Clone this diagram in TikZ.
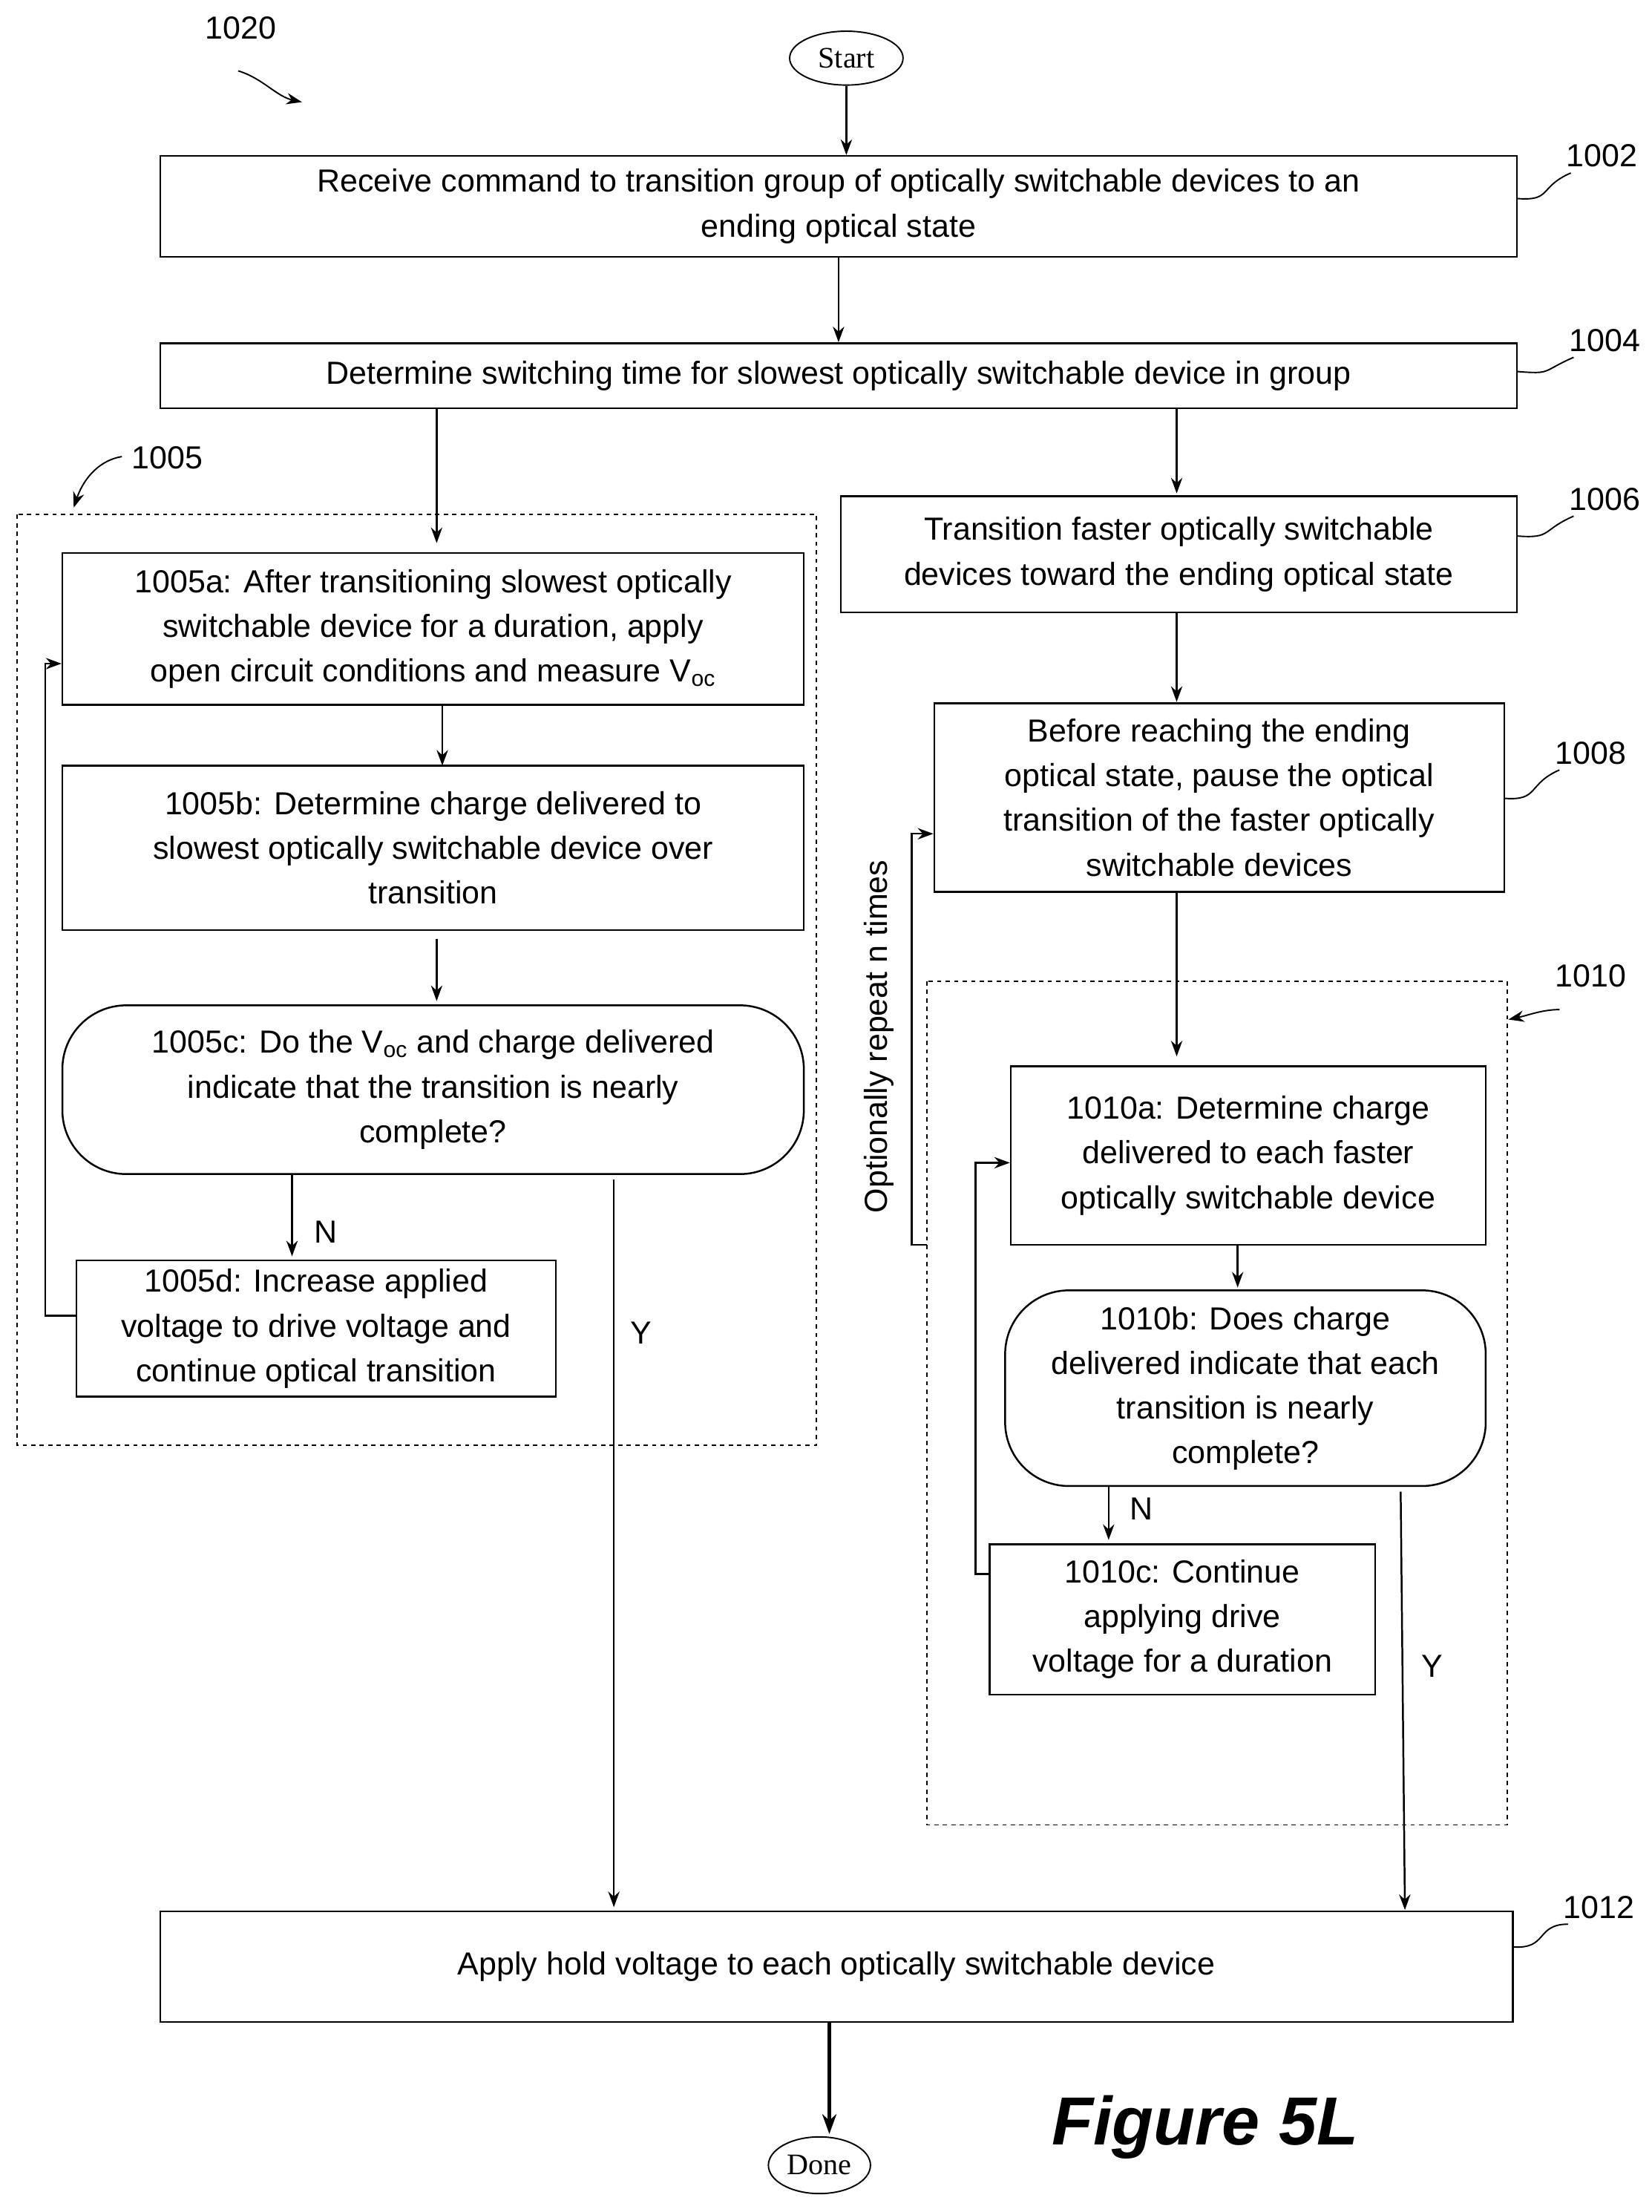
\documentclass[tikz,border=0pt]{standalone}
\usepackage{fontspec}
\setmainfont{Liberation Sans}
\newfontfamily\seriff{Liberation Serif}
\usetikzlibrary{arrows.meta,shapes.geometric}
\begin{document}
\begin{tikzpicture}[x=1pt,y=-1pt,line width=1.3pt,
  box/.style={draw,rectangle,align=center,inner sep=0pt,font=\fontsize{22.5}{31.5}\selectfont},
  rbox/.style={box,rounded corners=45pt},
  term/.style={draw,ellipse,font=\seriff\fontsize{21}{24}\selectfont,inner sep=2pt,line width=1pt},
  dbox/.style={draw,dashed,line width=1pt},
  arr/.style={-{Stealth[length=11pt,width=8pt]}},
  lab/.style={font=\fontsize{22.5}{26}\selectfont},
  ref/.style={font=\fontsize{22.5}{26}\selectfont,anchor=center}]
\useasboundingbox (0,0) rectangle (1165,1560);
\node[term,minimum width=80pt,minimum height=38pt] (start) at (597,41) {Start};
\node[ref] (r1020) at (170,20) {1020};
\draw[arr,line width=1pt] (168,50) .. controls (185,55) and (195,68) .. (213,72);
\node[box,minimum width=957pt,minimum height=71pt] (n1002) at (591.5,145.5) {Receive command to transition group of optically switchable devices to an\\ending optical state};
\node[box,minimum width=957pt,minimum height=46pt] (n1004) at (591.5,265) {Determine switching time for slowest optically switchable device in group};
\draw[arr] (start) -- (start|-n1002.north);
\draw[arr] (n1002.south) -- (n1004.north);
% dashed 1005
\draw[dbox] (12,363) rectangle (576,1019);
\node[ref] (r1005) at (118,323) {1005};
\draw[arr,line width=1pt] (86,322) .. controls (68,325) and (58,340) .. (52,358);
\node[box,minimum width=523pt,minimum height=107pt] (a) at (305.5,443.5) {1005a: After transitioning slowest optically\\switchable device for a duration, apply\\open circuit conditions and measure V\textsubscript{oc}};
\node[box,minimum width=523pt,minimum height=116pt] (b) at (305.5,598) {1005b: Determine charge delivered to\\slowest optically switchable device over\\transition};
\node[rbox,minimum width=523pt,minimum height=119pt] (c) at (305.5,768.5) {1005c: Do the V\textsubscript{oc} and charge delivered\\indicate that the transition is nearly\\complete?};
\node[box,minimum width=338pt,minimum height=96pt] (d) at (223,937) {1005d: Increase applied\\voltage to drive voltage and\\continue optical transition};
\coordinate (p1) at (308,288);
\draw[arr] (p1) -- (308,383);
\draw[arr] (312,497) -- (312,540);
\draw[arr] (308,662) -- (308,706);
\draw[arr] (206,828) -- (206,886);
\node[lab] (nN1) at (230,869) {N};
\draw[arr] (d.west|-0,928) -- (32,928) -- (32,468) -- (a.west|-0,468);
\draw[arr] (433,832) -- (433,1345);
\node[lab] (nY1) at (452,940) {Y};
% right column
\node[box,minimum width=477pt,minimum height=82pt] (n1006) at (831.5,391) {Transition faster optically switchable\\devices toward the ending optical state};
\node[box,minimum width=402pt,minimum height=133pt] (n1008) at (860,562.5) {Before reaching the ending\\optical state, pause the optical\\transition of the faster optically\\switchable devices};
\draw[arr] (830,288) -- (830,348);
\draw[arr] (830,432) -- (830,495);
\draw[arr] (830,629) -- (830,745);
\draw[dbox] (654,692) rectangle (1063,1287);
\node[box,minimum width=335pt,minimum height=126pt] (ta) at (880.5,815) {1010a: Determine charge\\delivered to each faster\\optically switchable device};
\node[rbox,minimum width=339pt,minimum height=138pt] (tb) at (878.5,979) {1010b: Does charge\\delivered indicate that each\\transition is nearly\\complete?};
\node[box,minimum width=272pt,minimum height=106pt] (tc) at (834,1142) {1010c: Continue\\applying drive\\voltage for a duration};
\draw[arr] (654,878) -- (643,878) -- (643,588) -- (n1008.west|-0,588);
\node[lab,rotate=90] (rep) at (620,731) {Optionally repeat n times};
\draw[arr] (873,878) -- (873,908);
\draw[arr] (782,1048) -- (782,1086);
\node[lab] (nN2) at (805,1064) {N};
\draw[arr] (tc.west|-0,1110) -- (688,1110) -- (688,820) -- (ta.west|-0,820);
\draw[arr] (988,1052) -- (991,1347);
\node[lab] (nY2) at (1010,1175) {Y};
\node[box,minimum width=954pt,minimum height=78pt] (n1012) at (590,1387) {Apply hold voltage to each optically switchable device};
\node[term,minimum width=72pt,minimum height=40pt] (done) at (578,1527) {Done};
\draw[-{Stealth[length=14pt,width=10pt]},line width=2.5pt] (585,1426) -- (585,1505);
\node[font=\bfseries\itshape\fontsize{48}{50}\selectfont] (fig) at (850,1500) {Figure 5L};
% reference numerals
\foreach \n/\x/\y/\bx/\by in {1002/1130/110/1070/140, 1004/1132/240/1070/262, 1006/1132/352/1070/378, 1008/1122/531/1061/563}{
  \node[ref] (r\n) at (\x,\y) {\n};
  \draw[line width=1pt] (\bx,\by) .. controls (\bx+25,\by+2) and (\x-45,\y+22) .. (\x-22,\y+12);
}
\node[ref] (r1012) at (1128,1345) {1012};
\draw[line width=1pt] (1067,1373) .. controls (1092,1375) and (1083,1357) .. (1106,1357);
\node[ref] (r1010) at (1122,688) {1010};
\draw[arr,line width=1pt] (1100,712) .. controls (1088,712) and (1078,716) .. (1064,719);
\end{tikzpicture}
\end{document}
